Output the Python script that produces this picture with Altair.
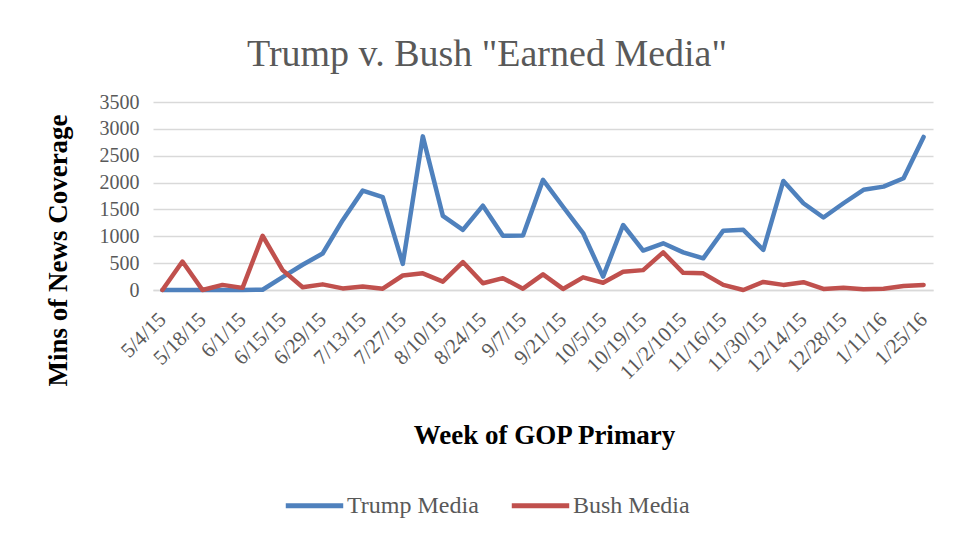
import altair as alt
import pandas as pd

weeks = ["5/4/15", "5/11/15", "5/18/15", "5/25/15", "6/1/15", "6/8/15", "6/15/15", "6/22/15",
         "6/29/15", "7/6/15", "7/13/15", "7/20/15", "7/27/15", "8/3/15", "8/10/15", "8/17/15",
         "8/24/15", "8/31/15", "9/7/15", "9/14/15", "9/21/15", "9/28/15", "10/5/15", "10/12/15",
         "10/19/15", "10/26/15", "11/2/1015", "11/9/15", "11/16/15", "11/23/15", "11/30/15",
         "12/7/15", "12/14/15", "12/21/15", "12/28/15", "1/4/16", "1/11/16", "1/18/16", "1/25/16"]

trump = [0, 0, 0, 0, 0, 5, 240, 470, 680, 1300, 1850, 1730, 485, 2860, 1380, 1120,
         1570, 1010, 1015, 2050, 1550, 1060, 250, 1210, 735, 870, 700, 590, 1105, 1120,
         745, 2030, 1615, 1350, 1615, 1865, 1925, 2080, 2850]

bush = [0, 530, 0, 95, 40, 1010, 370, 50, 105, 30, 65, 25, 270, 310, 155, 520,
        125, 220, 25, 290, 20, 235, 135, 340, 370, 700, 320, 310, 95, 0,
        150, 95, 145, 20, 40, 15, 25, 75, 95]

series = ["Trump Media", "Bush Media"]
colors = ["#4F81BD", "#C0504D"]

rows = []
for i, w in enumerate(weeks):
    rows.append({"week": w, "series": series[0], "value": trump[i], "order": i})
    rows.append({"week": w, "series": series[1], "value": bush[i], "order": i})
df = pd.DataFrame(rows)

font = "Liberation Serif"

chart = alt.Chart(df).mark_line(strokeWidth=4.5, strokeCap="round", strokeJoin="round").encode(
    x=alt.X("week:O", sort=weeks,
            scale=alt.Scale(type="point", padding=0.47),
            axis=alt.Axis(values=weeks[::2], labelAngle=-45, labelAlign="right",
                          labelBaseline="middle", title="Week of GOP Primary",
                          ticks=False, domain=True, domainColor="#D9D9D9", domainWidth=1.5,
                          labelFontSize=21, labelColor="#595959", labelFont=font,
                          labelPadding=26,
                          titleFontSize=27, titleFont=font, titleFontWeight="bold",
                          titleColor="#000000", titleX=391, titleY=145,
                          titleBaseline="middle", titleAlign="center")),
    y=alt.Y("value:Q", scale=alt.Scale(domain=[0, 3500]),
            axis=alt.Axis(values=list(range(0, 3501, 500)), format="d",
                          title="Mins of News Coverage",
                          ticks=False, domain=False, gridColor="#D9D9D9", gridWidth=1.5,
                          labelFontSize=20, labelColor="#595959", labelFont=font,
                          labelPadding=14,
                          titleFontSize=27, titleFont=font, titleFontWeight="bold",
                          titleColor="#000000", titleX=-95, titleY=148,
                          titleBaseline="middle", titleAlign="center", titleAngle=-90)),
    color=alt.Color("series:N", sort=series,
                    scale=alt.Scale(domain=series, range=colors),
                    legend=alt.Legend(orient="none", legendX=130, legendY=372,
                                      direction="horizontal", title=None,
                                      symbolType="stroke", symbolStrokeWidth=5,
                                      symbolSize=3300, labelFontSize=24, labelColor="#595959",
                                      labelFont=font, columnPadding=22, labelOffset=1)),
    order="order:Q",
).properties(
    width=780,
    height=188,
    title=alt.TitleParams('Trump v. Bush "Earned Media"', fontSize=38, font=font,
                          fontWeight="normal", color="#595959", anchor="middle",
                          baseline="alphabetic", offset=40, dx=-56, dy=52),
    autosize=alt.AutoSizeParams(type="none"),
    padding={"left": 145, "top": 94, "right": 16, "bottom": 238},
).configure_view(stroke=None)

chart.save("out.html", embed_options={"renderer": "svg", "actions": False})
